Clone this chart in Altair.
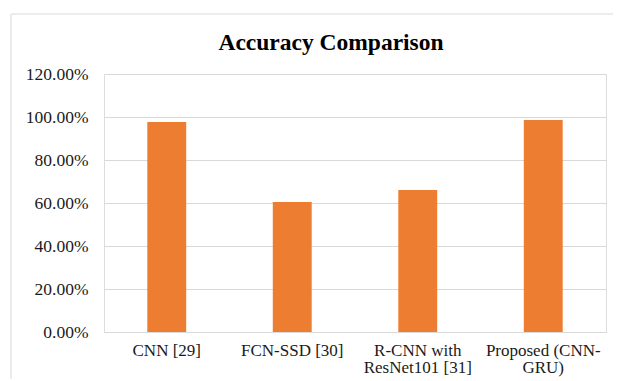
import altair as alt
import pandas as pd

categories = ["CNN [29]", "FCN-SSD [30]", "R-CNN with|ResNet101 [31]", "Proposed (CNN-|GRU)"]
accuracy = [0.977, 0.605, 0.660, 0.986]
y_ticks = [0.0, 0.2, 0.4, 0.6, 0.8, 1.0, 1.2]
title_text = "Accuracy Comparison"

df = pd.DataFrame({"method": categories, "accuracy": accuracy})

FONT = "Liberation Serif"

frame = alt.Chart(pd.DataFrame({"k": [0]})).mark_rect(
    fill=None, stroke="#d9d9d9", strokeWidth=1
).encode(
    x=alt.value(-93), x2=alt.value(640), y=alt.value(-60), y2=alt.value(400)
)

title = alt.Chart(pd.DataFrame({"t": [title_text]})).mark_text(
    font=FONT, fontSize=23.5, fontWeight="bold", color="#000000",
    align="center", baseline="alphabetic"
).encode(x=alt.value(227), y=alt.value(-24), text="t:N")

bars = alt.Chart(df).mark_bar(color="#ED7D31").encode(
    x=alt.X("method:N", sort=categories, title=None,
            scale=alt.Scale(paddingInner=0.69, paddingOuter=0.345),
            axis=alt.Axis(labelExpr="split(datum.label, '|')", labelAngle=0,
                          labelFont=FONT, labelFontSize=17, labelColor="#1a1a1a",
                          labelPadding=10, labelLineHeight=17, ticks=False,
                          domainColor="#d9d9d9", domainWidth=1, grid=False)),
    y=alt.Y("accuracy:Q", title=None,
            scale=alt.Scale(domain=[0, 1.2], nice=False),
            axis=alt.Axis(values=y_ticks, format=".2%", labelFont=FONT,
                          labelFontSize=17.5, labelColor="#1a1a1a", labelPadding=16,
                          ticks=False, domain=False, gridColor="#d9d9d9",
                          gridWidth=1)),
)

chart = alt.layer(frame, bars, title).properties(
    width=502, height=258,
    autosize=alt.AutoSizeParams(type="none"),
    padding={"left": 96, "top": 66, "right": 7, "bottom": 47},
).configure_view(stroke=None).configure(background="white")

chart.save("out.html", embed_options={"renderer": "svg", "actions": False})
